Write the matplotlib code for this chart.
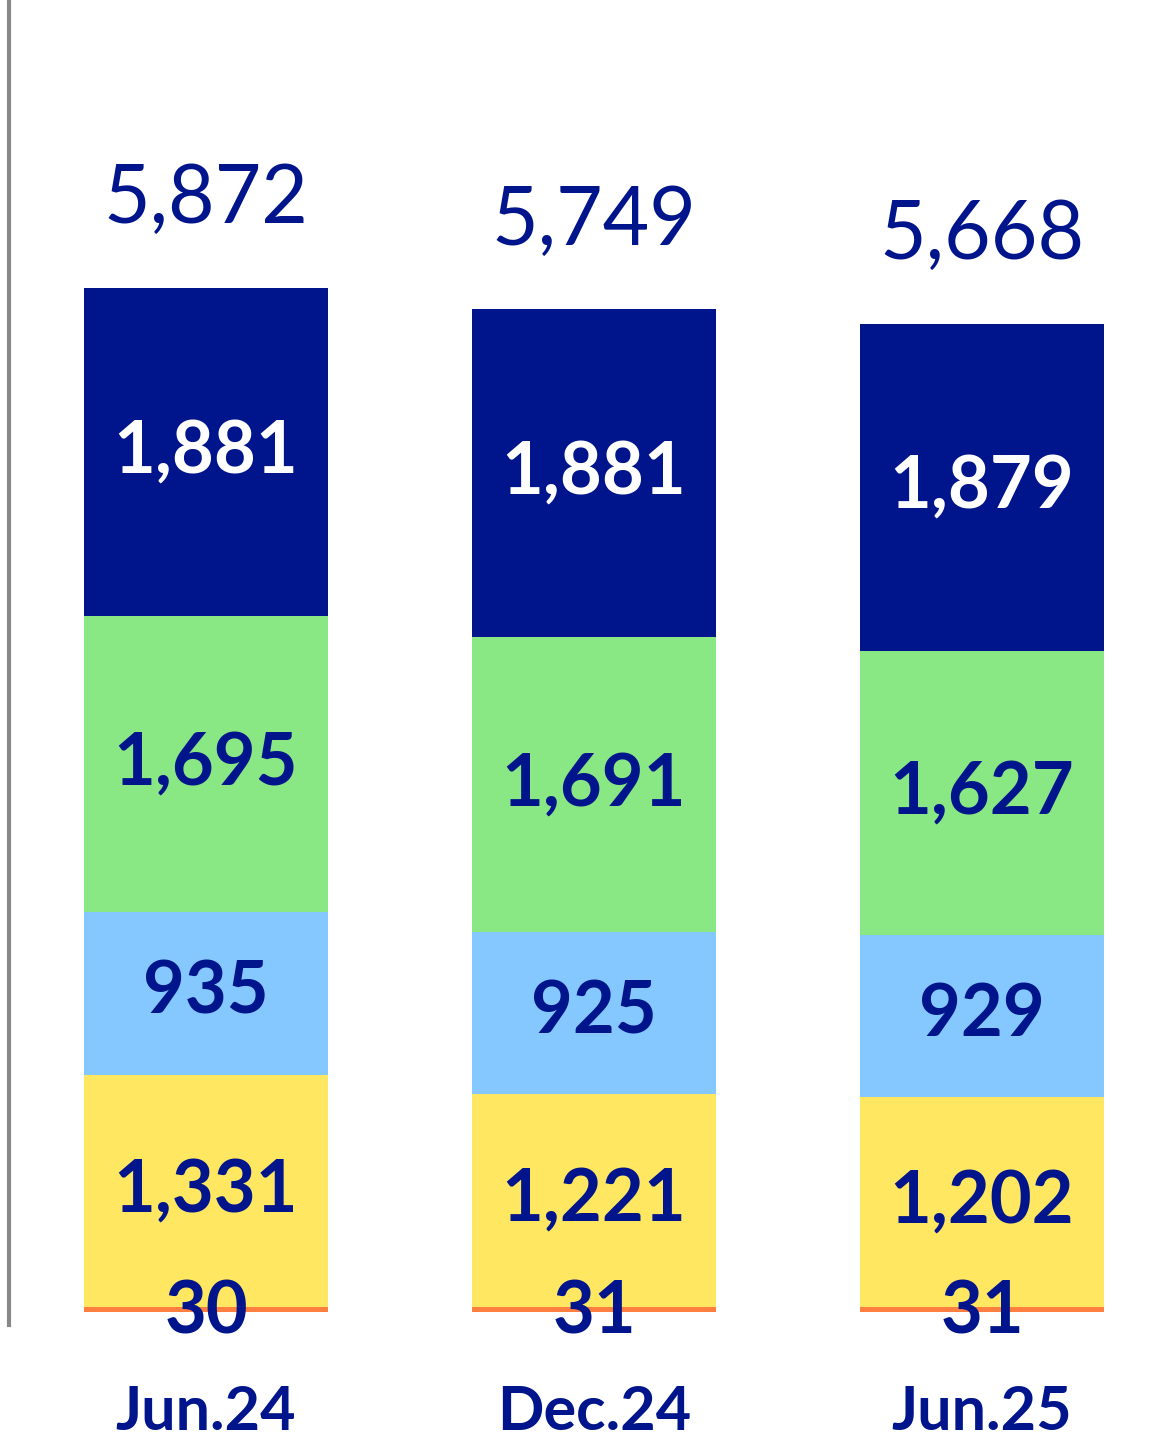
import matplotlib
matplotlib.use("Agg")
import matplotlib.pyplot as plt
import numpy as np

categories = ["Jun.24", "Dec.24", "Jun.25"]
orange_vals = [30, 31, 31]
yellow_vals = [1331, 1221, 1202]
lblue_vals = [935, 925, 929]
green_vals = [1695, 1691, 1627]
navy_vals = [1881, 1881, 1879]
totals = [5872, 5749, 5668]

W, H = 1176, 1446
fig = plt.figure(figsize=(W/100, H/100), dpi=100)
bottom_px = 1312
ax = fig.add_axes([9/W, (H-bottom_px)/H, 1-9/W, bottom_px/H])
scale = (1312-288)/5872
ax.set_ylim(0, bottom_px/scale)
ax.set_xlim((9-206)/388, (1176-206)/388)
ax.axis("off")

navy = "#00148C"
series = [(orange_vals, "#FF7F41"), (yellow_vals, "#FFE761"), (lblue_vals, "#85C8FF"),
          (green_vals, "#89E784"), (navy_vals, navy)]
x = np.arange(len(categories))
base = np.zeros(3)
font = "Lato"
for vals, col in series:
    vals = np.array(vals)
    ax.bar(x, vals, bottom=base, width=0.631, color=col, linewidth=0)
    if col not in ("#FF7F41",):
        tc = "white" if col == navy else navy
        for i in range(3):
            ax.text(x[i], base[i] + vals[i]/2, f"{vals[i]:,}", ha="center", va="center",
                    fontsize=52, fontweight="bold", color=tc, family=font)
    base = base + vals
for i in range(3):
    ax.text(x[i], -5, f"{orange_vals[i]}", ha="center", va="center", fontsize=52,
            fontweight="bold", color=navy, family=font, clip_on=False)
    ax.text(x[i], totals[i] + 88/scale, f"{totals[i]:,}", ha="center", va="center",
            fontsize=58, color=navy, family=font, clip_on=False)
    ax.text(x[i], -100/scale, categories[i], ha="center", va="center", fontsize=44,
            fontweight="bold", color=navy, family=font, clip_on=False)

fig.add_artist(plt.Line2D([9/W, 9/W], [(H-1325)/H, 1], transform=fig.transFigure,
                          color="#888888", linewidth=3))
fig.savefig("out.png", dpi=100, facecolor="white")
